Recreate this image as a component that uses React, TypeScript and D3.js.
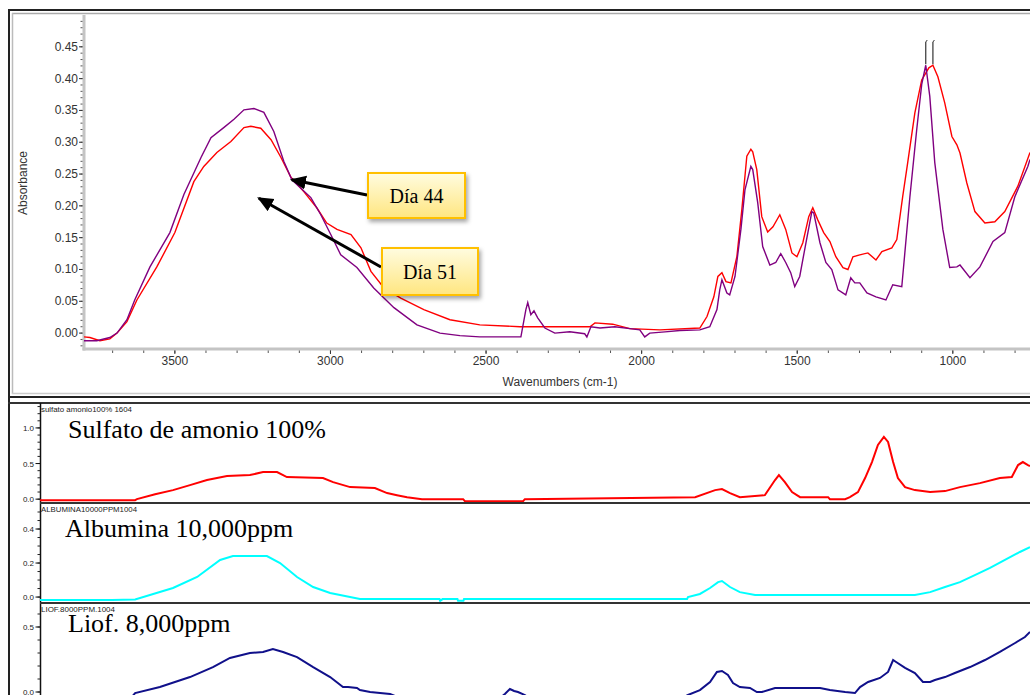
import React from 'react';
import * as d3 from 'd3';

type Pt = [number, number];

// FTIR absorbance, [wavenumber cm-1, absorbance]
const dia44: Pt[] = [
  [3792, -0.012], [3751, -0.012], [3709, -0.007], [3686, 0.0], [3654, 0.021], [3629, 0.052],
  [3580, 0.104], [3516, 0.158], [3471, 0.218], [3416, 0.276], [3384, 0.307], [3343, 0.323],
  [3310, 0.336], [3278, 0.351], [3246, 0.353], [3214, 0.347], [3182, 0.317], [3150, 0.27],
  [3124, 0.241], [3063, 0.213], [3031, 0.186], [2999, 0.155], [2967, 0.123], [2915, 0.103],
  [2861, 0.071], [2796, 0.04], [2722, 0.013], [2648, 0.0], [2584, -0.004], [2520, -0.006],
  [2388, -0.006], [2372, 0.037], [2366, 0.048], [2356, 0.029], [2346, 0.035], [2334, 0.024],
  [2311, 0.008], [2279, 0.0], [2231, 0.002], [2183, -0.001], [2176, -0.006], [2163, 0.01],
  [2134, 0.008], [2086, 0.01], [2038, 0.007], [2006, 0.005], [1990, -0.006], [1974, 0.0],
  [1925, 0.002], [1877, 0.004], [1813, 0.005], [1781, 0.01], [1758, 0.037], [1749, 0.068],
  [1742, 0.084], [1726, 0.063], [1717, 0.06], [1700, 0.089], [1681, 0.163], [1668, 0.225],
  [1649, 0.262], [1643, 0.257], [1627, 0.205], [1611, 0.136], [1588, 0.107], [1569, 0.111],
  [1553, 0.125], [1537, 0.111], [1521, 0.095], [1508, 0.073], [1492, 0.089], [1472, 0.142],
  [1453, 0.191], [1447, 0.189], [1427, 0.142], [1408, 0.111], [1389, 0.1], [1369, 0.068],
  [1344, 0.06], [1328, 0.087], [1315, 0.079], [1299, 0.079], [1276, 0.063], [1247, 0.057],
  [1215, 0.052], [1193, 0.076], [1164, 0.073], [1138, 0.214], [1116, 0.32], [1100, 0.391],
  [1087, 0.421], [1074, 0.372], [1058, 0.268], [1032, 0.163], [1010, 0.103], [987, 0.104],
  [977, 0.107], [945, 0.087], [913, 0.104], [871, 0.144], [833, 0.158], [801, 0.214],
  [759, 0.262], [752, 0.273],
];

const dia51: Pt[] = [
  [3792, -0.006], [3773, -0.007], [3741, -0.012], [3709, -0.009], [3686, 0.0], [3654, 0.018],
  [3622, 0.052], [3558, 0.104], [3500, 0.158], [3439, 0.238], [3407, 0.262], [3365, 0.284],
  [3320, 0.301], [3278, 0.323], [3256, 0.325], [3224, 0.322], [3191, 0.304], [3159, 0.276],
  [3127, 0.245], [3085, 0.222], [3044, 0.197], [3012, 0.173], [2979, 0.163], [2934, 0.155],
  [2902, 0.134], [2870, 0.097], [2828, 0.071], [2774, 0.055], [2700, 0.037], [2616, 0.021],
  [2520, 0.013], [2391, 0.01], [2166, 0.01], [2150, 0.016], [2093, 0.014], [2038, 0.007],
  [1941, 0.005], [1813, 0.008], [1790, 0.026], [1768, 0.057], [1755, 0.089], [1742, 0.095],
  [1729, 0.081], [1713, 0.079], [1694, 0.12], [1678, 0.194], [1662, 0.278], [1649, 0.289],
  [1643, 0.285], [1630, 0.257], [1614, 0.183], [1595, 0.159], [1578, 0.167], [1556, 0.186],
  [1537, 0.163], [1517, 0.126], [1501, 0.12], [1482, 0.142], [1463, 0.183], [1450, 0.197],
  [1434, 0.178], [1415, 0.158], [1395, 0.144], [1376, 0.12], [1353, 0.103], [1337, 0.1],
  [1321, 0.12], [1299, 0.123], [1273, 0.126], [1247, 0.115], [1228, 0.128], [1196, 0.134],
  [1180, 0.147], [1161, 0.215], [1145, 0.268], [1122, 0.346], [1100, 0.398], [1077, 0.417],
  [1064, 0.421], [1048, 0.403], [1026, 0.362], [1003, 0.309], [987, 0.296], [977, 0.283],
  [955, 0.236], [929, 0.191], [897, 0.173], [865, 0.175], [833, 0.191], [791, 0.231],
  [752, 0.284],
];

const sulfato: Pt[] = [
  [3940, -0.014], [3621, -0.014], [3615, 0.0], [3554, 0.07], [3494, 0.127], [3437, 0.197],
  [3380, 0.268], [3313, 0.324], [3236, 0.338], [3192, 0.38], [3145, 0.38], [3112, 0.31],
  [2991, 0.296], [2957, 0.239], [2900, 0.169], [2817, 0.155], [2776, 0.085], [2743, 0.056],
  [2709, 0.028], [2659, 0.0], [2521, 0.0], [2515, -0.028], [2320, -0.028], [2314, 0.0],
  [1743, 0.028], [1676, 0.127], [1653, 0.141], [1626, 0.085], [1593, 0.028], [1509, 0.056],
  [1475, 0.268], [1462, 0.338], [1442, 0.239], [1418, 0.099], [1391, 0.028], [1297, 0.028],
  [1291, 0.0], [1240, 0.0], [1224, 0.028], [1197, 0.099], [1173, 0.296], [1150, 0.521],
  [1130, 0.761], [1110, 0.873], [1096, 0.803], [1079, 0.521], [1063, 0.296], [1039, 0.169],
  [1006, 0.127], [955, 0.099], [905, 0.113], [855, 0.169], [788, 0.225], [721, 0.296],
  [681, 0.31], [660, 0.479], [644, 0.521], [627, 0.479], [620, 0.465],
];

const albumina: Pt[] = [
  [3940, -0.018], [3699, -0.018], [3621, -0.014], [3494, 0.053], [3413, 0.118], [3336, 0.218],
  [3293, 0.241], [3179, 0.241], [3135, 0.2], [3078, 0.118], [3024, 0.059], [2967, 0.024],
  [2867, -0.012], [2600, -0.012], [2598, -0.022], [2590, -0.012], [2540, -0.012], [2538, -0.022],
  [2520, -0.022], [2518, -0.012], [1770, -0.012], [1767, 0.0], [1727, 0.018], [1693, 0.053],
  [1666, 0.088], [1653, 0.094], [1626, 0.059], [1593, 0.029], [1542, 0.012], [1006, 0.012],
  [955, 0.029], [905, 0.059], [855, 0.088], [805, 0.129], [754, 0.171], [704, 0.218],
  [654, 0.265], [620, 0.294],
];

const liof: Pt[] = [
  [3940, -0.06], [3640, -0.06], [3621, -0.008], [3538, 0.038], [3437, 0.115], [3360, 0.192],
  [3303, 0.262], [3236, 0.3], [3192, 0.308], [3159, 0.331], [3125, 0.308], [3078, 0.269],
  [3024, 0.192], [2967, 0.115], [2924, 0.038], [2907, 0.038], [2877, 0.031], [2867, 0.015],
  [2833, 0.0], [2766, -0.015], [2733, -0.046], [2397, -0.046], [2381, -0.015], [2364, 0.023],
  [2350, 0.008], [2337, 0.0], [2314, -0.023], [2297, -0.054], [1794, -0.054], [1767, -0.023],
  [1727, 0.015], [1693, 0.077], [1670, 0.154], [1653, 0.162], [1633, 0.131], [1616, 0.069],
  [1593, 0.038], [1559, 0.031], [1536, 0.0], [1519, 0.0], [1475, 0.031], [1324, 0.031],
  [1291, 0.015], [1240, 0.0], [1207, -0.008], [1190, 0.038], [1163, 0.077], [1123, 0.108],
  [1096, 0.154], [1079, 0.246], [1069, 0.231], [1039, 0.185], [1006, 0.146], [979, 0.077],
  [955, 0.077], [939, 0.092], [905, 0.115], [872, 0.146], [821, 0.192], [771, 0.246],
  [721, 0.308], [670, 0.377], [637, 0.423], [620, 0.462],
];

const topYTicks = [0, 0.05, 0.1, 0.15, 0.2, 0.25, 0.3, 0.35, 0.4, 0.45];
const topXTicks = [3500, 3000, 2500, 2000, 1500, 1000];

const panelTitles = ['sulfato amonio100% 1604', 'ALBUMINA10000PPM1004', 'LIOF.8000PPM.1004'];
const panelTitleWidths = [91, 96, 74];
const panelLabels = ['Sulfato de amonio 100%', 'Albumina 10,000ppm', 'Liof. 8,000ppm'];
const panelTicks = [[0, 0.5, 1.0], [0, 0.2, 0.4], [0, 0.5]];
const panelMinorStep = [0.1, 0.05, 0.1];
const panelColors = ['#ff0000', '#00ffff', '#10108a'];

const sans = "'Liberation Sans', Arial, sans-serif";
const serif = "'Liberation Serif', 'Times New Roman', serif";

// top spectrum panel geometry
const tL = 84, tR = 1030, tT = 15, tB = 349;
const topX = d3.scaleLinear().domain([3792, 752]).range([tL, tR]);
const topY = d3.scaleLinear().domain([-0.025, 0.5]).range([tB, tT]);

// stacked reference spectra
const bX = d3.scaleLinear().domain([3940, 620]).range([40, 1030]);
const panels = [
  { top: 403, bottom: 503, y: d3.scaleLinear().domain([-0.04, 1.35]).range([502, 403]), data: sulfato },
  { top: 503, bottom: 603, y: d3.scaleLinear().domain([-0.035, 0.553]).range([603, 503]), data: albumina },
  { top: 603, bottom: 705, y: d3.scaleLinear().domain([-0.1, 0.677]).range([705, 604]), data: liof },
];

function range(a: number, b: number, s: number): number[] {
  const out: number[] = [];
  for (let v = a; v <= b + 1e-9; v += s) out.push(+v.toFixed(4));
  return out;
}

function Callout({ x, y, w, h, text, tip, from }: { x: number; y: number; w: number; h: number; text: string; tip: Pt; from: Pt }) {
  return (
    <g>
      <line x1={from[0]} y1={from[1]} x2={tip[0]} y2={tip[1]} stroke="#000" strokeWidth={3} markerEnd="url(#arrowHead)" />
      <rect x={x} y={y} width={w} height={h} fill="url(#calloutFill)" stroke="#ffc000" strokeWidth={2} filter="url(#calloutShadow)" />
      <text x={x + w / 2} y={y + h / 2 + 7} textAnchor="middle" fontFamily={serif} fontSize={20} fill="#000">{text}</text>
    </g>
  );
}

export default function App() {
  const topLine = d3.line<Pt>().x((d) => topX(d[0])).y((d) => topY(d[1]));
  const peak44 = dia44.reduce((a, b) => (b[1] > a[1] ? b : a));
  const peak51 = dia51.reduce((a, b) => (b[1] > a[1] ? b : a));

  const tip44: Pt = [topX(3124), topY(0.241)];
  const tip51: Pt = [topX(3230), topY(0.212)];

  return (
    <svg width={1030} height={695} style={{ position: 'absolute', left: 0, top: 0, background: '#fff' }}>
      <defs>
        <clipPath id="topClip"><rect x={tL} y={tT} width={tR - tL} height={tB - tT} /></clipPath>
        {panels.map((p, i) => (
          <clipPath id={`panelClip${i}`} key={i}><rect x={40} y={p.top} width={990} height={p.bottom - p.top} /></clipPath>
        ))}
        <linearGradient id="calloutFill" x1="0" y1="0" x2="0" y2="1">
          <stop offset="0" stopColor="#fffce0" />
          <stop offset="1" stopColor="#ffe680" />
        </linearGradient>
        <filter id="calloutShadow" x="-20%" y="-20%" width="150%" height="160%">
          <feDropShadow dx={2} dy={3} stdDeviation={2} floodColor="#000" floodOpacity={0.35} />
        </filter>
        <marker id="arrowHead" markerUnits="userSpaceOnUse" markerWidth={18} markerHeight={16} refX={14} refY={7} orient="auto">
          <path d="M0,0 L16,7 L0,14 Z" fill="#000" />
        </marker>
      </defs>

      {/* outer frame of the spectrum window */}
      <line x1={8} y1={10} x2={1030} y2={10} stroke="#222" strokeWidth={2} />
      <line x1={12} y1={13.5} x2={1030} y2={13.5} stroke="#aaa" strokeWidth={1.5} />
      <line x1={9} y1={9} x2={9} y2={695} stroke="#222" strokeWidth={2} />
      <line x1={12.5} y1={13} x2={12.5} y2={394} stroke="#bbb" strokeWidth={1.5} />
      <line x1={12} y1={393.5} x2={1030} y2={393.5} stroke="#ccc" strokeWidth={1.5} />
      <line x1={8} y1={397} x2={1030} y2={397} stroke="#222" strokeWidth={2} />

      {/* top axes */}
      <line x1={tL} y1={tT} x2={tL} y2={tB + 1.5} stroke="#c4c4c4" strokeWidth={3} />
      <line x1={tL - 1.5} y1={tB} x2={tR} y2={tB} stroke="#c4c4c4" strokeWidth={3} />
      {range(-0.02, 0.49, 0.01).map((v) => (
        <line key={`ym${v}`} x1={tL - 3.5} x2={tL - 1.5} y1={topY(v)} y2={topY(v)} stroke="#555" strokeWidth={1} />
      ))}
      {topYTicks.map((v) => (
        <g key={`yt${v}`}>
          <line x1={tL - 5} x2={tL - 1.5} y1={topY(v)} y2={topY(v)} stroke="#333" strokeWidth={1} />
          <text x={tL - 6} y={topY(v) + 4} textAnchor="end" fontFamily={sans} fontSize={12} fill="#333">{v.toFixed(2)}</text>
        </g>
      ))}
      {range(800, 3700, 100).map((w) => (
        <line key={`xm${w}`} x1={topX(w)} x2={topX(w)} y1={tB + 1.5} y2={tB + 4} stroke="#555" strokeWidth={1} />
      ))}
      {topXTicks.map((w) => (
        <g key={`xt${w}`}>
          <line x1={topX(w)} x2={topX(w)} y1={tB + 1.5} y2={tB + 5} stroke="#333" strokeWidth={1} />
          <text x={topX(w)} y={tB + 16} textAnchor="middle" fontFamily={sans} fontSize={12} fill="#333">{w}</text>
        </g>
      ))}
      <text transform={`translate(27,183) rotate(-90)`} textAnchor="middle" fontFamily={sans} fontSize={12} fill="#333">Absorbance</text>
      <text x={560} y={386} textAnchor="middle" fontFamily={sans} fontSize={12} fill="#333">Wavenumbers (cm-1)</text>

      {/* spectra */}
      <g clipPath="url(#topClip)">
        <path d={topLine(dia51) || ''} fill="none" stroke="#ff0000" strokeWidth={1.4} />
        <path d={topLine(dia44) || ''} fill="none" stroke="#800080" strokeWidth={1.4} />
      </g>
      {[peak44, peak51].map((p, i) => (
        <g key={`pk${i}`}>
          <line x1={topX(p[0])} x2={topX(p[0])} y1={topY(p[1]) - 1} y2={42} stroke="#333" strokeWidth={1.2} />
          <line x1={topX(p[0])} x2={topX(p[0]) + 1.5} y1={42} y2={40} stroke="#333" strokeWidth={1} />
        </g>
      ))}

      <Callout x={368} y={173} w={97} h={45} text="Día 44" from={[367, 195]} tip={tip44} />
      <Callout x={382} y={248} w={96} h={47} text="Día 51" from={[381, 267]} tip={tip51} />

      {/* stacked reference spectra */}
      <line x1={8} y1={403} x2={1030} y2={403} stroke="#333" strokeWidth={2} />
      <line x1={40.5} y1={403} x2={40.5} y2={695} stroke="#111" strokeWidth={1.5} />
      {panels.map((p, i) => {
        const line = d3.line<Pt>().x((d) => bX(d[0])).y((d) => p.y(d[1]));
        const [d0, d1] = p.y.domain();
        const minors = range(Math.ceil(d0 / panelMinorStep[i]) * panelMinorStep[i], d1, panelMinorStep[i]);
        return (
          <g key={`panel${i}`}>
            {i > 0 && <line x1={40} y1={p.top} x2={1030} y2={p.top} stroke="#333" strokeWidth={2} />}
            {minors.filter((v) => p.y(v) > p.top + 2 && p.y(v) < Math.min(p.bottom, 695)).map((v) => (
              <line key={`m${v}`} x1={37.5} x2={40} y1={p.y(v)} y2={p.y(v)} stroke="#222" strokeWidth={1} />
            ))}
            {panelTicks[i].map((v) => (
              <g key={`t${v}`}>
                <line x1={35.5} x2={40} y1={p.y(v)} y2={p.y(v)} stroke="#111" strokeWidth={1} />
                <text x={34} y={p.y(v) + 3} textAnchor="end" fontFamily={sans} fontSize={8} fill="#222">{v.toFixed(1)}</text>
              </g>
            ))}
            <g clipPath={`url(#panelClip${i})`}>
              <path d={line(p.data) || ''} fill="none" stroke={panelColors[i]} strokeWidth={2} />
            </g>
            <text x={41} y={p.top + 8.5} fontFamily={sans} fontSize={8} textLength={panelTitleWidths[i]} lengthAdjust="spacingAndGlyphs" fill="#222">{panelTitles[i]}</text>
          </g>
        );
      })}
      <text x={68} y={438} fontFamily={serif} fontSize={26} fill="#000">{panelLabels[0]}</text>
      <text x={65} y={537} fontFamily={serif} fontSize={26} fill="#000">{panelLabels[1]}</text>
      <text x={68} y={632} fontFamily={serif} fontSize={26} fill="#000">{panelLabels[2]}</text>
    </svg>
  );
}
